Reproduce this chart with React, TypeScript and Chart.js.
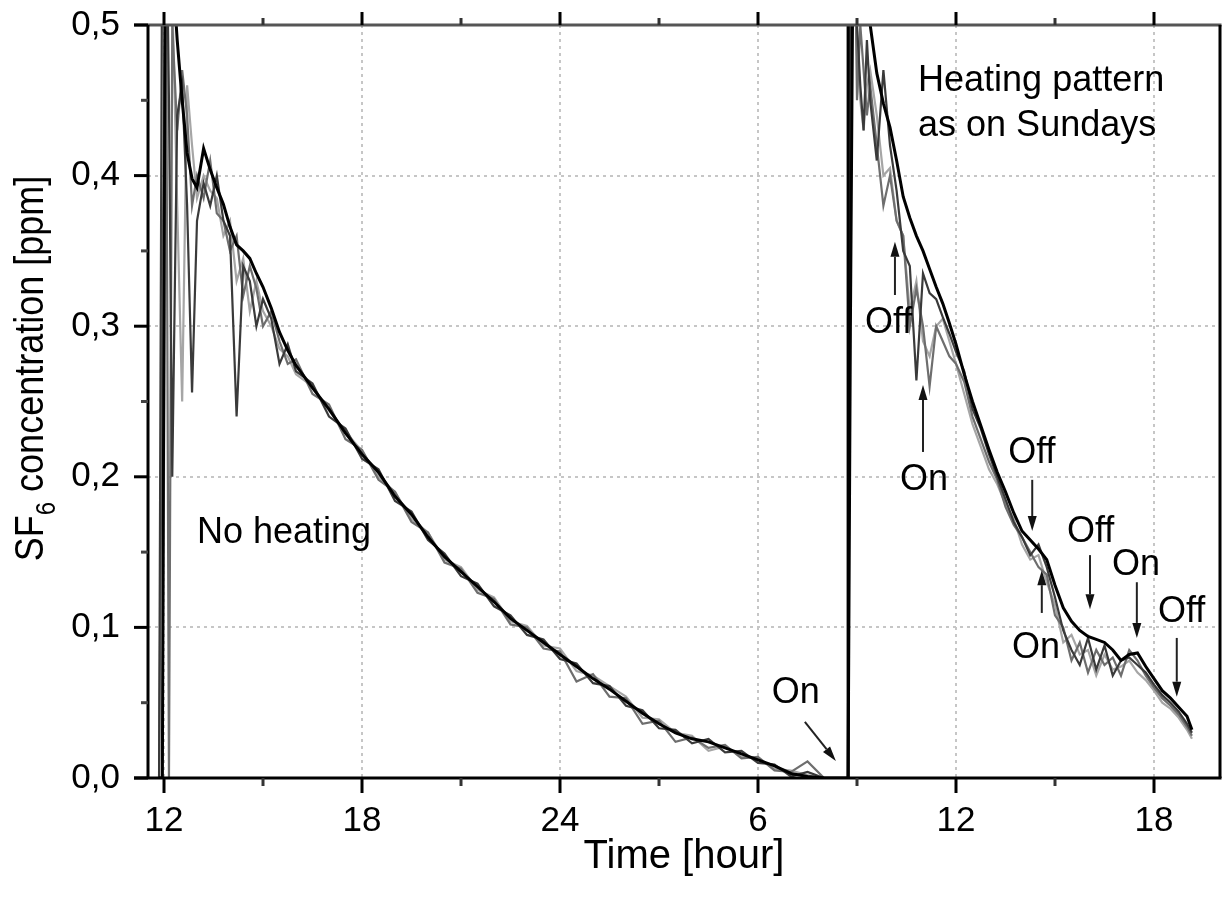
import React, { useEffect, useRef } from 'react';
import { Chart, registerables } from 'chart.js';

Chart.register(...registerables);

// ---------- data ----------
// time in hours since midnight of day 1 (24 = midnight, 30 = 6 h next day ...)
const T1 = [
  11.85, 11.95, 12.05, 12.15, 12.25, 12.4, 12.55, 12.7, 12.85, 13.0,
  13.2, 13.4, 13.6, 13.8, 14.0, 14.2, 14.4, 14.6, 14.8, 15.0,
  15.25, 15.5, 15.75, 16.0, 16.5, 17.0, 17.5, 18.0, 18.5, 19.0,
  19.5, 20.0, 20.5, 21.0, 21.5, 22.0, 22.5, 23.0, 23.5, 24.0,
  24.5, 25.0, 25.5, 26.0, 26.5, 27.0, 27.5, 28.0, 28.5, 29.0,
  29.5, 30.0, 30.5, 31.0, 31.5, 32.0, 32.5,
];
const T2 = [
  32.73, 32.8, 32.9, 33.0, 33.1, 33.2, 33.3, 33.4, 33.6, 33.8,
  34.0, 34.2, 34.4, 34.6, 34.8, 35.0, 35.2, 35.4, 35.6, 35.8,
  36.0, 36.25, 36.5, 36.75, 37.0, 37.25, 37.5, 37.75, 38.0, 38.25,
  38.5, 38.75, 39.0, 39.25, 39.5, 39.75, 40.0, 40.25, 40.5, 40.75,
  41.0, 41.25, 41.5, 41.75, 42.0, 42.25, 42.5, 42.75, 43.0, 43.15,
];

// SF6 concentration [ppm], four repeated measurements
const RUN1_NO_HEATING = [
  0, 0, 0.62, 0.58, 0.54, 0.49, 0.45, 0.415, 0.398, 0.392,
  0.418, 0.404, 0.392, 0.381, 0.366, 0.354, 0.35, 0.345, 0.335, 0.326,
  0.312, 0.296, 0.284, 0.274, 0.259, 0.245, 0.229, 0.215, 0.203, 0.187,
  0.175, 0.16, 0.147, 0.137, 0.127, 0.117, 0.106, 0.098, 0.09, 0.082,
  0.074, 0.066, 0.059, 0.051, 0.043, 0.036, 0.03, 0.026, 0.024, 0.02,
  0.016, 0.012, 0.008, 0.003, 0.001, 0, 0,
];
const RUN2_NO_HEATING = [
  0, 0.6, 0.62, 0.45, 0.2, 0.44, 0.46, 0.38, 0.256, 0.37,
  0.395, 0.38, 0.4, 0.37, 0.36, 0.24, 0.34, 0.33, 0.3, 0.318,
  0.305, 0.275, 0.288, 0.27, 0.262, 0.24, 0.232, 0.212, 0.205, 0.184,
  0.177, 0.158, 0.149, 0.134, 0.129, 0.114, 0.108, 0.095, 0.092, 0.079,
  0.076, 0.063, 0.061, 0.048, 0.045, 0.033, 0.032, 0.023, 0.026, 0.017,
  0.018, 0.01, 0.009, 0.001, 0.004, 0, 0,
];
const RUN3_NO_HEATING = [
  0, 0.3, 0.6, 0.0, 0.5, 0.43, 0.47, 0.44, 0.38, 0.4,
  0.385, 0.41, 0.375, 0.37, 0.35, 0.36, 0.32, 0.34, 0.325, 0.3,
  0.31, 0.29, 0.275, 0.278, 0.255, 0.248, 0.225, 0.218, 0.198, 0.19,
  0.17, 0.163, 0.143, 0.139, 0.123, 0.119, 0.102, 0.1, 0.086, 0.084,
  0.064, 0.069, 0.054, 0.053, 0.036, 0.038, 0.024, 0.027, 0.02, 0.022,
  0.013, 0.014, 0.005, 0.004, 0.011, 0, 0,
];
const RUN4_NO_HEATING = [
  0, 0, 0.4, 0.6, 0.52, 0.38, 0.25, 0.46, 0.42, 0.385,
  0.4, 0.39, 0.385, 0.36, 0.37, 0.33, 0.345, 0.31, 0.33, 0.31,
  0.3, 0.285, 0.28, 0.268, 0.26, 0.244, 0.23, 0.217, 0.2, 0.19,
  0.172, 0.163, 0.145, 0.14, 0.125, 0.12, 0.104, 0.101, 0.088, 0.086,
  0.071, 0.068, 0.061, 0.054, 0.04, 0.039, 0.03, 0.028, 0.018, 0.021,
  0.014, 0.013, 0.006, 0.005, 0.002, 0, 0,
];

const RUN1_HEATING = [
  0, 0.3, 0.62, 0.6, 0.57, 0.55, 0.52, 0.5, 0.468, 0.448,
  0.432, 0.41, 0.386, 0.372, 0.36, 0.35, 0.338, 0.326, 0.315, 0.302,
  0.288, 0.268, 0.25, 0.234, 0.218, 0.203, 0.19, 0.176, 0.164, 0.158,
  0.152, 0.145, 0.128, 0.113, 0.104, 0.098, 0.094, 0.092, 0.09, 0.085,
  0.078, 0.082, 0.083, 0.074, 0.066, 0.058, 0.053, 0.047, 0.041, 0.032,
];
const RUN2_HEATING = [
  0, 0.62, 0.6, 0.5, 0.46, 0.43, 0.49, 0.45, 0.41, 0.47,
  0.42, 0.39, 0.35, 0.34, 0.264, 0.335, 0.322, 0.318, 0.306, 0.295,
  0.283, 0.27, 0.245, 0.232, 0.215, 0.2, 0.185, 0.17, 0.16, 0.148,
  0.155, 0.14, 0.12, 0.098, 0.085, 0.075, 0.093, 0.072, 0.088, 0.068,
  0.078, 0.08, 0.075, 0.07, 0.062, 0.055, 0.05, 0.044, 0.036, 0.03,
];
const RUN3_HEATING = [
  0, 0.45, 0.62, 0.45, 0.5, 0.47, 0.44, 0.46, 0.42, 0.38,
  0.4, 0.37, 0.36, 0.3, 0.325, 0.3, 0.26, 0.3, 0.29, 0.28,
  0.275, 0.263, 0.24, 0.225, 0.21, 0.198, 0.18, 0.168, 0.16, 0.15,
  0.14, 0.135, 0.108, 0.1, 0.078, 0.09, 0.07, 0.085, 0.075, 0.08,
  0.068, 0.085, 0.078, 0.068, 0.06, 0.053, 0.048, 0.042, 0.034, 0.028,
];
const RUN4_HEATING = [
  0, 0.62, 0.62, 0.48, 0.45, 0.43, 0.46, 0.47, 0.44, 0.4,
  0.405, 0.37, 0.36, 0.31, 0.33, 0.29, 0.28, 0.3, 0.305, 0.29,
  0.275, 0.255, 0.235, 0.22, 0.205, 0.195, 0.182, 0.172, 0.155, 0.145,
  0.148, 0.13, 0.115, 0.09, 0.095, 0.082, 0.085, 0.068, 0.082, 0.072,
  0.074, 0.078, 0.07, 0.065, 0.058, 0.05, 0.046, 0.04, 0.032, 0.026,
];

const SEPARATOR_TIME = 32.73;

const X_MIN = 11.515;
const X_MAX = 44.0;
const Y_MIN = 0;
const Y_MAX = 0.5;
const X_MAJOR_TICKS = [12, 18, 24, 30, 36, 42];
const X_TICK_LABELS = ['12', '18', '24', '6', '12', '18'];
const X_MINOR_TICKS = [15, 21, 27, 33, 39];
const Y_MINOR_TICKS = [0.05, 0.15, 0.25, 0.35, 0.45];

const NOTE_TEXT = ['No heating', 'Heating pattern', 'as on Sundays', 'On', 'Off', 'On', 'Off', 'On', 'Off', 'On', 'Off'];
const NOTE_TIME = [13.0, 34.85, 34.85, 30.42, 33.24, 34.3, 37.58, 37.7, 39.36, 40.73, 42.12];
const NOTE_VALUE = [0.156, 0.456, 0.426, 0.0498, 0.2955, 0.191, 0.209, 0.0797, 0.157, 0.135, 0.1036];

// arrows: [time0, value0, time1, value1] (tail -> head)
const ARROWS = [
  [31.42, 0.0372, 32.36, 0.0113],
  [34.15, 0.3207, 34.15, 0.356],
  [35.0, 0.2165, 35.0, 0.261],
  [38.31, 0.198, 38.31, 0.164],
  [38.6, 0.1096, 38.6, 0.138],
  [40.06, 0.148, 40.06, 0.112],
  [41.48, 0.13, 41.48, 0.093],
  [42.69, 0.093, 42.69, 0.054],
];

const FONT = '"Liberation Sans", Arial, Helvetica, sans-serif';

function series(a: number[], b: number[]) {
  return T1.map((t, i) => ({ x: t, y: a[i] })).concat(T2.map((t, i) => ({ x: t, y: b[i] })));
}

const decorPlugin = {
  id: 'decor',
  beforeDatasetsDraw(chart: any) {
    const { ctx, chartArea: a, scales } = chart;
    const x = scales.x;
    const y = scales.y;
    ctx.save();
    ctx.strokeStyle = '#c6c6c6';
    ctx.lineWidth = 2;
    ctx.setLineDash([3, 4]);
    y.ticks.forEach((t: any) => {
      if (t.value <= Y_MIN + 1e-6 || t.value >= Y_MAX - 1e-6) return;
      const py = Math.round(y.getPixelForValue(t.value));
      ctx.beginPath();
      ctx.moveTo(a.left, py);
      ctx.lineTo(a.right, py);
      ctx.stroke();
    });
    X_MAJOR_TICKS.forEach((v) => {
      const px = Math.round(x.getPixelForValue(v));
      ctx.beginPath();
      ctx.moveTo(px, a.top);
      ctx.lineTo(px, a.bottom);
      ctx.stroke();
    });
    ctx.restore();
  },
  afterDatasetsDraw(chart: any) {
    const { ctx, chartArea: a, scales } = chart;
    const x = scales.x;
    const y = scales.y;
    ctx.save();
    ctx.setLineDash([]);
    ctx.lineCap = 'butt';
    const seg = (x0: number, y0: number, x1: number, y1: number) => {
      ctx.beginPath();
      ctx.moveTo(x0, y0);
      ctx.lineTo(x1, y1);
      ctx.stroke();
    };
    // frame
    ctx.lineWidth = 3;
    ctx.strokeStyle = '#555';
    seg(a.left - 14, a.top, a.right + 1.5, a.top);
    ctx.strokeStyle = '#000';
    seg(a.left - 14, a.bottom, a.right + 1.5, a.bottom);
    seg(a.left, a.top, a.left, a.bottom);
    seg(a.right, a.top, a.right, a.bottom);
    // y ticks
    y.ticks.forEach((t: any) => {
      const py = y.getPixelForValue(t.value);
      seg(a.left - 14, py, a.left, py);
    });
    ctx.strokeStyle = '#444';
    Y_MINOR_TICKS.forEach((v) => {
      const py = y.getPixelForValue(v);
      seg(a.left - 7, py, a.left, py);
    });
    // x ticks bottom & top
    ctx.strokeStyle = '#000';
    X_MAJOR_TICKS.forEach((v) => {
      const px = x.getPixelForValue(v);
      seg(px, a.bottom, px, a.bottom + 15);
      seg(px, a.top - 13, px, a.top);
    });
    ctx.strokeStyle = '#333';
    X_MINOR_TICKS.forEach((v) => {
      const px = x.getPixelForValue(v);
      seg(px, a.bottom, px, a.bottom + 8);
      seg(px, a.top - 7, px, a.top);
    });

    // annotations
    ctx.fillStyle = '#000';
    ctx.font = `36px ${FONT}`;
    ctx.textAlign = 'left';
    ctx.textBaseline = 'alphabetic';
    NOTE_TEXT.forEach((txt, i) => {
      ctx.fillText(txt, x.getPixelForValue(NOTE_TIME[i]), y.getPixelForValue(NOTE_VALUE[i]));
    });
    // arrows
    ctx.strokeStyle = '#222';
    ctx.fillStyle = '#111';
    ctx.lineWidth = 2;
    ARROWS.forEach(([t0, v0, t1, v1]) => {
      const x0 = x.getPixelForValue(t0);
      const y0 = y.getPixelForValue(v0);
      const x1 = x.getPixelForValue(t1);
      const y1 = y.getPixelForValue(v1);
      const ang = Math.atan2(y1 - y0, x1 - x0);
      const hl = 15;
      const hw = 4.5;
      const bx = x1 - hl * Math.cos(ang);
      const by = y1 - hl * Math.sin(ang);
      seg(x0, y0, bx, by);
      ctx.beginPath();
      ctx.moveTo(x1, y1);
      ctx.lineTo(bx - hw * Math.sin(ang), by + hw * Math.cos(ang));
      ctx.lineTo(bx + hw * Math.sin(ang), by - hw * Math.cos(ang));
      ctx.closePath();
      ctx.fill();
    });
    ctx.restore();
  },
  afterDraw(chart: any) {
    const { ctx } = chart;
    const a = chart.chartArea;
    ctx.save();
    const cy = (a.top + a.bottom) / 2 - 33;
    ctx.translate(43, cy);
    ctx.rotate(-Math.PI / 2);
    ctx.scale(1, 1.12);
    ctx.fillStyle = '#000';
    ctx.textBaseline = 'alphabetic';
    ctx.textAlign = 'left';
    const big = `36px ${FONT}`;
    const small = `24px ${FONT}`;
    ctx.font = big;
    const w1 = ctx.measureText('SF').width;
    const w3 = ctx.measureText(' concentration [ppm]').width;
    ctx.font = small;
    const w2 = ctx.measureText('6').width;
    let x0 = -(w1 + w2 + w3) / 2;
    ctx.font = big;
    ctx.fillText('SF', x0, 0);
    x0 += w1;
    ctx.font = small;
    ctx.fillText('6', x0, 11);
    x0 += w2;
    ctx.font = big;
    ctx.fillText(' concentration [ppm]', x0, 0);
    ctx.restore();
  },
};

export default function App() {
  const ref = useRef<HTMLCanvasElement | null>(null);
  useEffect(() => {
    if (!ref.current) return;
    const line = (data: any[], color: string, width: number) => ({
      data,
      borderColor: color,
      backgroundColor: color,
      borderWidth: width,
      pointRadius: 0,
      tension: 0,
      fill: false,
    });
    const chart = new Chart(ref.current, {
      type: 'line',
      data: {
        datasets: [
          line([{ x: SEPARATOR_TIME, y: Y_MIN }, { x: SEPARATOR_TIME, y: Y_MAX }], '#000', 3),
          line(series(RUN1_NO_HEATING, RUN1_HEATING), '#000', 3),
          line(series(RUN2_NO_HEATING, RUN2_HEATING), '#3a3a3a', 2.2),
          line(series(RUN3_NO_HEATING, RUN3_HEATING), '#6e6e6e', 2.2),
          line(series(RUN4_NO_HEATING, RUN4_HEATING), '#a6a6a6', 2.2),
        ],
      },
      options: {
        animation: false,
        responsive: false,
        devicePixelRatio: 1,
        layout: { padding: { top: 25, right: 3, left: 0, bottom: 0 } },
        plugins: { legend: { display: false }, tooltip: { enabled: false } },
        scales: {
          x: {
            type: 'linear',
            min: X_MIN,
            max: X_MAX,
            grid: { display: false, drawTicks: false },
            border: { display: false },
            afterBuildTicks: (s: any) => {
              s.ticks = X_MAJOR_TICKS.map((value) => ({ value }));
            },
            afterFit: (s: any) => {
              s.height = 126;
              s.paddingLeft = 0;
              s.paddingRight = 0;
            },
            ticks: {
              autoSkip: false,
              maxRotation: 0,
              padding: 22,
              color: '#000',
              font: { family: FONT, size: 35 },
              callback: (v: any) => {
                const i = X_MAJOR_TICKS.indexOf(Number(v));
                return i >= 0 ? X_TICK_LABELS[i] : '';
              },
            },
            title: {
              display: true,
              text: 'Time [hour]',
              color: '#000',
              font: { family: FONT, size: 40 },
              padding: { top: 0, bottom: 23 },
            },
          },
          y: {
            type: 'linear',
            min: Y_MIN,
            max: Y_MAX,
            grid: { display: false, drawTicks: false },
            border: { display: false },
            afterFit: (s: any) => {
              s.width = 148;
              s.paddingTop = 0;
              s.paddingBottom = 0;
            },
            ticks: {
              stepSize: 0.1,
              padding: 28,
              color: '#000',
              font: { family: FONT, size: 35 },
              callback: (v: any) => (Math.round(Number(v) * 10) / 10).toFixed(1).replace('.', ','),
            },
          },
        },
      },
      plugins: [decorPlugin],
    } as any);
    return () => chart.destroy();
  }, []);
  return (
    <div style={{ position: 'absolute', left: 0, top: 0, width: 1223, height: 904, background: '#fff' }}>
      <canvas ref={ref} width={1223} height={904} />
    </div>
  );
}
